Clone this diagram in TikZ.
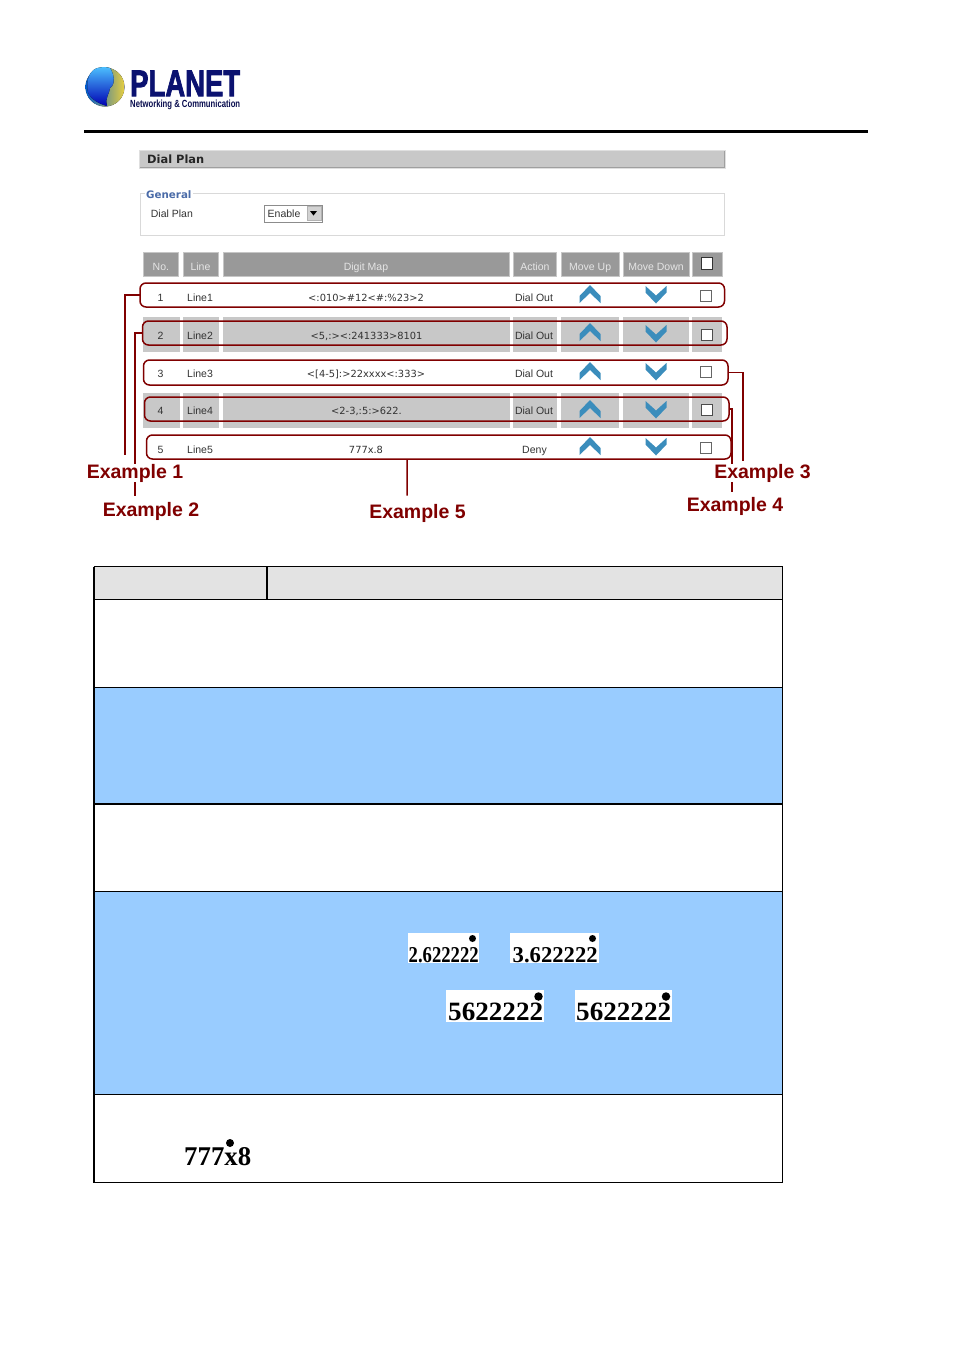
\documentclass[tikz,border=0pt]{standalone}
\usepackage{fontspec}
\usepackage{graphicx}
\setmainfont{Liberation Sans}
\newfontfamily\dejafont{DejaVu Sans}
\newfontfamily\serffont{Liberation Serif}
\newfontfamily\heavyfont[FakeBold=2.5]{Liberation Sans Bold}
\usetikzlibrary{calc,backgrounds}
\definecolor{darkred}{HTML}{800000}
\definecolor{planetnavy}{HTML}{0B1270}
\definecolor{hdrgray}{HTML}{999999}
\definecolor{rowgray}{HTML}{C8C8C8}
\definecolor{iconblue}{HTML}{3B8DBC}
\definecolor{bandblue}{HTML}{99CCFF}
\definecolor{uitext}{HTML}{333333}
\definecolor{fieldblue}{HTML}{4A6BA8}
\newcommand{\fsz}[1]{\fontsize{#1}{#1}\selectfont}
\newcommand{\hdrtxt}[1]{\raisebox{-5.6pt}[0pt][0pt]{#1}}
\tikzset{
  hdrcell/.style={fill=hdrgray,draw=gray!45,line width=.8pt,inner sep=0,anchor=north west,minimum height=24pt,text=white!90!black,font=\fsz{10.5}},
  graycell/.style={fill=rowgray,inner sep=0,anchor=north west,minimum height=35pt},
  uilabel/.style={inner sep=0,text=uitext,font=\fsz{10.5}},
  maplabel/.style={inner sep=0,text=uitext,anchor=base,font=\dejafont\fsz{9.85}},
  actlabel/.style={inner sep=0,text=uitext,anchor=base,font=\fsz{10.5}},
  redrow/.style={draw=darkred,line width=1.5pt,rounded corners=6pt,inner sep=0,outer sep=0,anchor=north west,minimum width=584.5pt,minimum height=24pt},
  exlabel/.style={inner sep=0,fill=white,text=darkred,anchor=base,font=\fsz{19.5}\bfseries},
  exline/.style={draw=darkred,line width=1.5pt},
  checkbox/.style={draw=gray!80!black,line width=.8pt,inner sep=0,minimum size=11pt},
  imgbox/.style={fill=white,inner sep=0,anchor=north west},
  digitext/.style={inner sep=0,anchor=base west,font=\serffont\bfseries},
  dotmark/.style={fill=black,draw=none,circle,inner sep=0},
  tline/.style={draw=black},
}
\begin{document}
\begin{tikzpicture}[x=1pt,y=-1pt]
\useasboundingbox (0,0) rectangle (954,1350);

% --- logo ---
\fill[left color=blue!55!cyan!80!black,right color=yellow!55!brown!85] (105,87) circle (19.5);
\fill[top color=blue!35!cyan!70,bottom color=blue!70!black] (96,68.5) .. controls (88,72) and (86,84) .. (88,92) .. controls (91,100) and (100,104) .. (107,106) .. controls (104,100) and (110,92) .. (110,88) .. controls (116,84) and (114,74) .. (110,68) .. controls (105,66.5) and (100,67) .. (96,68.5) -- cycle;
\node[inner sep=0,anchor=north west,text=planetnavy] (logoname) at (130,70.5) {\resizebox{110pt}{25.5pt}{\heavyfont PLANET}};
\node[inner sep=0,anchor=north west,text=planetnavy!70!black] (logosub) at (130,99.5) {\resizebox{110pt}{7.5pt}{\bfseries Networking \& Communication}};
\fill[black] (84,129.6) rectangle (868,132.6);

% --- title bar ---
\fill[gray!25] (139,150) rectangle (725.5,168.5);
\fill[rowgray] (139.5,150.5) rectangle (724.5,167.5);
\draw[gray!75,line width=.8pt] (139.5,167.6) -- (724.7,167.6) -- (724.7,150.5);
\node[inner sep=0,anchor=base west,text=black!85,font=\dejafont\fsz{11.4}\bfseries] (title) at (147,163) {Dial Plan};

% --- general fieldset ---
\draw[gray!30,line width=1pt] (140.5,193) rectangle (724.7,235.5);
\node[inner sep=1pt,fill=white,anchor=base west,text=fieldblue,font=\dejafont\fsz{10.3}\bfseries] (general) at (145,198.5) {General};
\node[uilabel,anchor=base west] (dialplan) at (150.7,217.5) {Dial Plan};
\node[draw=gray!90,line width=1pt,fill=white,inner sep=0,anchor=north west,minimum width=58pt,minimum height=17pt] (sel) at (263.8,204.5) {};
\node[uilabel,anchor=base west] (seltxt) at (267.5,217.7) {Enable};
\node[fill=gray!35,draw=gray!60,line width=.7pt,inner sep=0,anchor=north west,minimum width=14pt,minimum height=14pt] (selbtn) at (306.5,206) {};
\fill[black] (310,211) -- (317,211) -- (313.5,215.5) -- cycle;

% --- header row ---
\node[hdrcell,minimum width=35pt] (h1) at (143,252.4) {\hdrtxt{No.}};
\node[hdrcell,minimum width=35pt] (h2) at (182.6,252.4) {\hdrtxt{Line}};
\node[hdrcell,minimum width=286pt] (h3) at (222.6,252.4) {\hdrtxt{Digit Map}};
\node[hdrcell,minimum width=43pt] (h4) at (513,252.4) {\hdrtxt{Action}};
\node[hdrcell,minimum width=57.5pt] (h5) at (561,252.4) {\hdrtxt{Move Up}};
\node[hdrcell,minimum width=66pt] (h6) at (622.6,252.4) {\hdrtxt{Move Down}};
\node[hdrcell,minimum width=30pt] (h7) at (692,252.4) {};
\node[draw=black!80,fill=white,line width=1pt,inner sep=0,minimum size=11.5pt] (hc) at (707,263.6) {};

% --- gray rows ---
\foreach \ty in {317,393}{
  \node[graycell,minimum width=37pt] at (142.5,\ty) {};
  \node[graycell,minimum width=36pt] at (183,\ty) {};
  \node[graycell,minimum width=287pt] at (222.5,\ty) {};
  \node[graycell,minimum width=44pt] at (513,\ty) {};
  \node[graycell,minimum width=58pt] at (561,\ty) {};
  \node[graycell,minimum width=66pt] at (623,\ty) {};
  \node[graycell,minimum width=30pt] at (692,\ty) {};
}

% --- row text ---
\node[uilabel] (n1) at (160.5,297.5) {1};
\node[uilabel,anchor=west] (l1) at (187,297.5) {Line1};
\node[maplabel] (d1) at (366,301.2) {<:010>\#12<\#:\%23>2};
\node[actlabel] (a1) at (534,301.2) {Dial Out};
\node[uilabel] (n2) at (160.5,335.5) {2};
\node[uilabel,anchor=west] (l2) at (187,335.5) {Line2};
\node[maplabel] (d2) at (366.5,339.2) {<5,:><:241333>8101};
\node[actlabel] (a2) at (534,339.2) {Dial Out};
\node[uilabel] (n3) at (160.5,373.5) {3};
\node[uilabel,anchor=west] (l3) at (187,373.5) {Line3};
\node[maplabel] (d3) at (366,377.2) {<[4-5]:>22xxxx<:333>};
\node[actlabel] (a3) at (534,377.2) {Dial Out};
\node[uilabel] (n4) at (160.5,411) {4};
\node[uilabel,anchor=west] (l4) at (187,411) {Line4};
\node[maplabel] (d4) at (366.5,414.7) {<2-3,:5:>622.};
\node[actlabel] (a4) at (534,414.7) {Dial Out};
\node[uilabel] (n5) at (160.5,449.5) {5};
\node[uilabel,anchor=west] (l5) at (187,449.5) {Line5};
\node[maplabel] (d5) at (366,453.2) {777x.8};
\node[actlabel] (a5) at (534.5,453.2) {Deny};

% --- icons ---
\foreach \yy in {285,323,362,400,437}{
  \fill[iconblue] (590,\yy) -- (600.5,\yy+11) -- (600.5,\yy+18) -- (590,\yy+8) -- (579.5,\yy+18) -- (579.5,\yy+11) -- cycle;
}
\foreach \yy in {286,325,363,401,438}{
  \fill[iconblue] (656,\yy+17.5) -- (666.5,\yy+6.5) -- (666.5,\yy) -- (656,\yy+9.5) -- (645.5,\yy) -- (645.5,\yy+6.5) -- cycle;
}

% --- check boxes ---
\node[checkbox,fill=white] (c1) at (706,295.5) {};
\node[checkbox,fill=white,draw=black!70] (c2) at (706.5,334.5) {};
\node[checkbox,fill=white] (c3) at (706,371.5) {};
\node[checkbox,fill=white,draw=black!70] (c4) at (706.5,410) {};
\node[checkbox,fill=white] (c5) at (706,447.5) {};

% --- red rounded rows ---
\node[redrow] (r1) at (140,283) {};
\node[redrow] (r2) at (142.5,321) {};
\node[redrow,minimum height=25pt] (r3) at (143.5,360) {};
\node[redrow] (r4) at (144.5,397) {};
\node[redrow] (r5) at (146.5,435) {};

% --- example labels ---
\node[exlabel] (ex1) at (135,478.2) {Example 1};
\node[exlabel] (ex2) at (151,516.5) {Example 2};
\node[exlabel] (ex3) at (762.5,478.2) {Example 3};
\node[exlabel] (ex4) at (735,511.2) {Example 4};
\node[exlabel] (ex5) at (417.5,518.5) {Example 5};

% --- connectors behind the labels ---
\begin{scope}[on background layer]
\draw[exline,shorten >=8.7pt] (r1.west) -| ($(ex1.north)+(-10,0)$);
\draw[exline,shorten >=6.5pt] (r2.west) -| ($(ex2.north)+(-16,0)$);
\draw[exline,shorten >=2.7pt] (r3.east) -| ($(ex3.north)+(-19.5,0)$);
\draw[exline,shorten >=4.7pt] (r4.east) -| ($(ex4.north)+(-3,0)$);
\draw[exline,shorten >=8.5pt] ($(r5.south)+(-31.5,0)$) -- ($(ex5.north)+(-10.5,0)$);
\end{scope}

% --- lower table ---
\fill[rowgray!50] (94,567) rectangle (782,599);
\fill[bandblue] (94,687) rectangle (782,804);
\fill[bandblue] (94,891) rectangle (782,1094);

\node[imgbox,minimum width=71pt,minimum height=30pt] (b1) at (408,933) {};
\node[imgbox,minimum width=89pt,minimum height=30pt] (b2) at (510,933) {};
\node[imgbox,minimum width=98pt,minimum height=32pt] (b3) at (446,990) {};
\node[imgbox,minimum width=97pt,minimum height=32pt] (b4) at (575,990) {};
\node[digitext] (t1) at (408.5,962.5) {\resizebox{70pt}{15pt}{2.622222}};
\node[digitext] (t2) at (512.5,962.5) {\resizebox{85pt}{15pt}{3.622222}};
\node[digitext] (t3) at (448,1020) {\resizebox{95pt}{17.5pt}{5622222}};
\node[digitext] (t4) at (576,1020) {\resizebox{95pt}{17.5pt}{5622222}};
\node[digitext] (t5) at (184,1165) {\resizebox{67pt}{18pt}{777x8}};
\node[dotmark,minimum size=7pt] (p1) at (472.5,938.5) {};
\node[dotmark,minimum size=7pt] (p2) at (592.5,938.5) {};
\node[dotmark,minimum size=8.5pt] (p3) at (538.5,996.5) {};
\node[dotmark,minimum size=8.5pt] (p4) at (666,996.5) {};
\node[dotmark,minimum size=8pt] (p5) at (230,1143) {};

\draw[tline,line width=1pt] (93.5,566.8) -- (782.5,566.8);
\draw[tline,line width=1pt] (94,599.2) -- (782,599.2);
\draw[tline,line width=1pt] (94,687.2) -- (782,687.2);
\draw[tline,line width=1.6pt] (94,804) -- (782,804);
\draw[tline,line width=1pt] (94,891.3) -- (782,891.3);
\draw[tline,line width=1pt] (94,1094.4) -- (782,1094.4);
\draw[tline,line width=1.2pt] (93.5,1182.3) -- (782.5,1182.3);
\draw[tline,line width=1.6pt] (94,566.5) -- (94,1182.5);
\draw[tline,line width=1.1pt] (782.3,566.5) -- (782.3,1182.5);
\draw[tline,line width=1.6pt] (267.2,566.5) -- (267.2,599);
\end{tikzpicture}
\end{document}
